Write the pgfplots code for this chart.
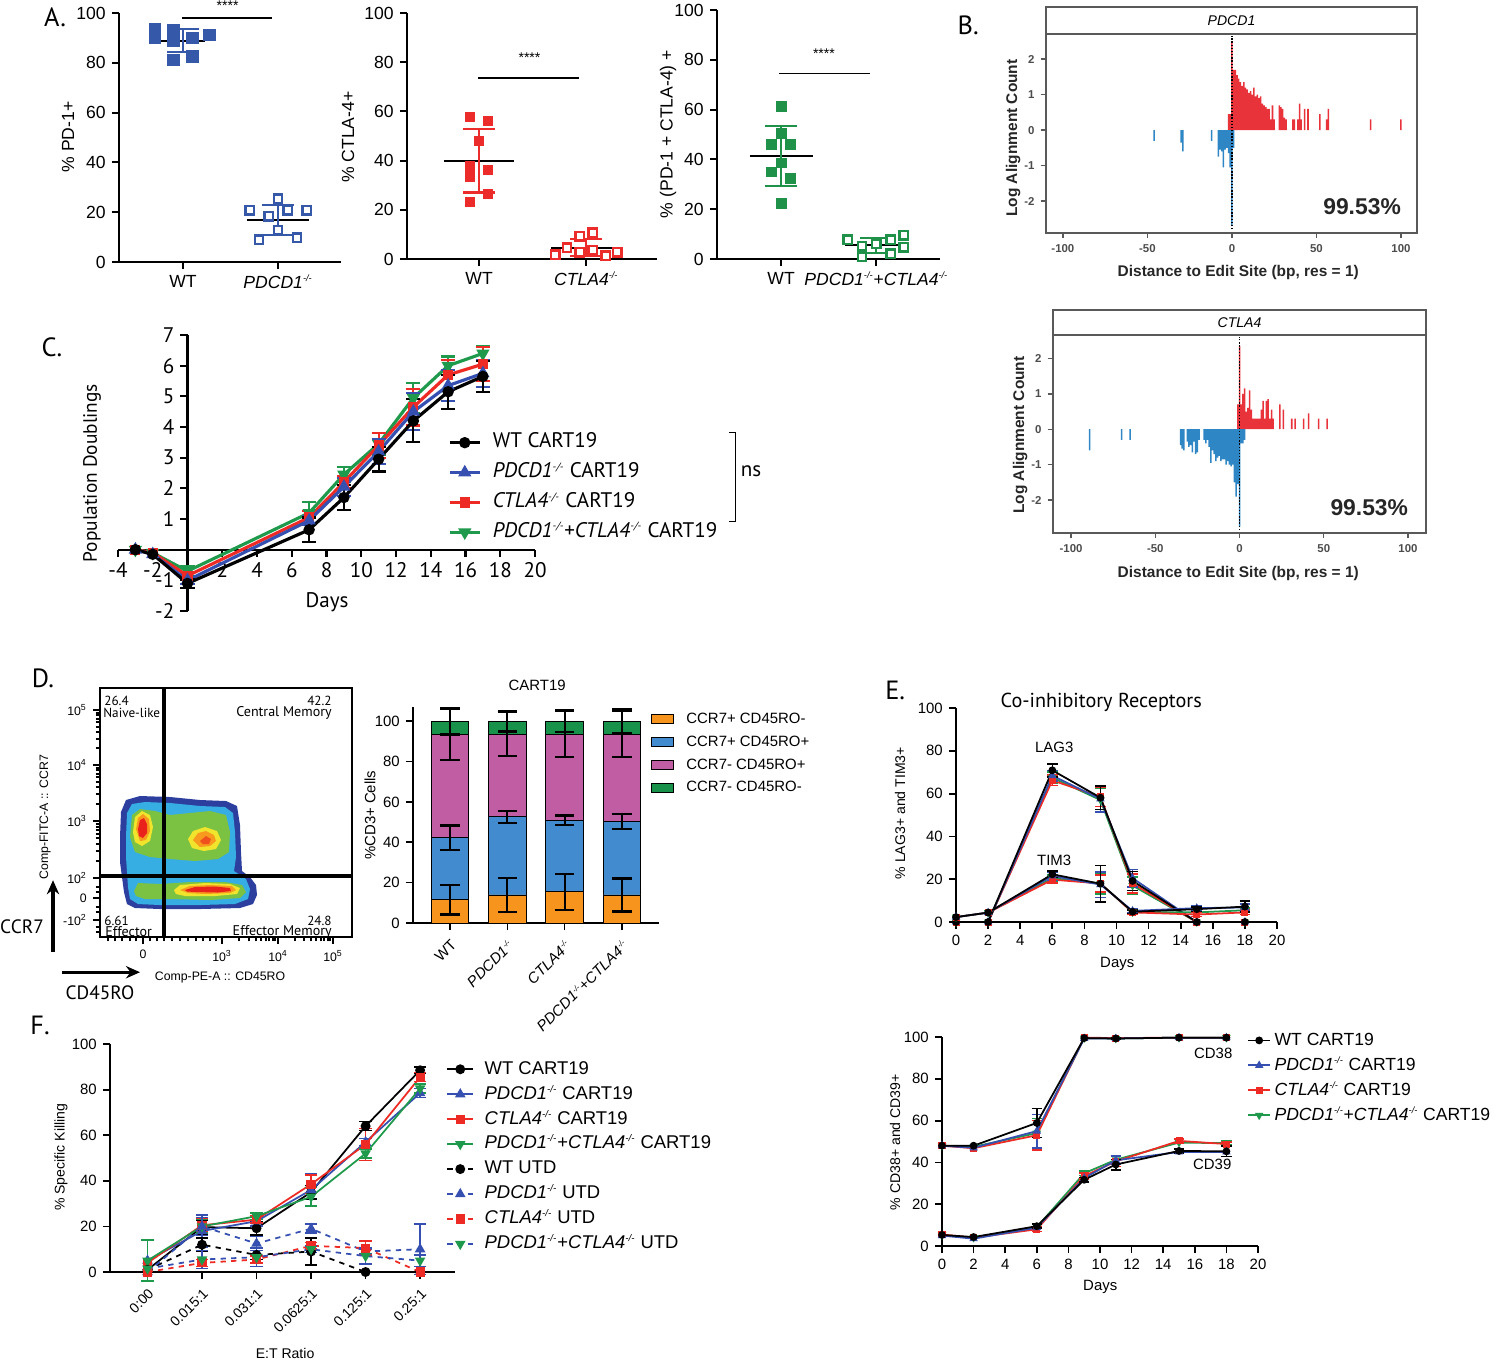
\documentclass[border=0pt]{standalone}
\usepackage{fontspec}
\setmainfont{Liberation Sans}
\newfontfamily\pts{PT Sans}
\usepackage{graphicx}
\usepackage{pgfplots}
\pgfplotsset{compat=1.18}
\usetikzlibrary{arrows.meta}

\definecolor{ablue}{HTML}{3558A8}
\definecolor{ared}{HTML}{EC2B2B}
\definecolor{agreen}{HTML}{1F9148}
\definecolor{bred}{HTML}{E8333B}
\definecolor{bblue}{HTML}{2F86C4}
\definecolor{lblue}{HTML}{3550B0}
\definecolor{lred}{HTML}{EE2A24}
\definecolor{lgreen}{HTML}{1F9A4C}
\definecolor{dorange}{HTML}{F7941D}
\definecolor{dblue}{HTML}{428BCF}
\definecolor{dmag}{HTML}{C15DA2}
\definecolor{dgreen}{HTML}{18924A}
\definecolor{fdark}{HTML}{2C3F9E}
\definecolor{fcyan}{HTML}{36AEE3}
\definecolor{fgreen}{HTML}{7CC242}
\definecolor{fyel}{HTML}{F1E42C}
\definecolor{forange}{HTML}{F79A1E}
\definecolor{fred}{HTML}{E9221C}

\newcommand\fs[1]{\fontsize{#1}{#1}\selectfont}
\newcommand\KO[1]{\textit{#1}\textsuperscript{\scalebox{0.75}{\textit{-/-}}}}

\pgfplotsset{
  gp/.style={scale only axis, anchor=south west, axis lines=left, clip=false,
    axis line style={-, line width=1.1pt}, tick style={line width=1.1pt, black},
    tick align=outside, major tick length=4pt,
    /pgf/number format/assume math mode=true},
  gg/.style={scale only axis, anchor=south west, clip=false,
    axis line style={draw=black!65, line width=0.9pt},
    tick style={black!65, line width=0.8pt}, tick align=outside, major tick length=3pt,
    xtick={-100,-50,0,50,100}, ytick={-2,-1,0,1,2}, tick pos=left,
    tick label style={font=\bfseries\fs{6.5}, text=black!70},
    /pgf/number format/assume math mode=true},
  ebar/.style 2 args={error bars/.cd, y dir=both, y explicit,
    error bar style={solid, line width=#1},
    error mark options={rotate=90, solid, line width=#1, mark size=#2}},
  ebk/.style 2 args={error bars/.cd, y dir=both, y explicit,
    error bar style={solid, draw=black, line width=#1},
    error mark options={rotate=90, solid, draw=black, line width=#1, mark size=#2}},
  sWT/.style={black, mark=*},
  sPD/.style={lblue, mark=triangle*},
  sCT/.style={lred, mark=square*},
  sDK/.style={lgreen, mark=triangle*, mark options={rotate=180}},
  lg/.style={legend cell align=left, legend style={draw=none, fill=none, inner sep=0pt, anchor=north west}},
}

\begin{document}
\begin{tikzpicture}
\useasboundingbox (0,0) rectangle (30cm,-27.18cm);

% ---------- A: PD-1
\begin{axis}[gp, at={(2.38cm,-5.24cm)}, width=4.44cm, height=4.98cm,
  xmin=0.326, xmax=2.663, ymin=0, ymax=100,
  xtick={1,2}, xticklabels={WT,\KO{PDCD1}}, ytick={0,20,40,60,80,100},
  tick label style={font=\fs{10}}]
\addplot[black, line width=1.2pt] coordinates {(0.77,88.9)(1.23,88.9)};
\addplot[black, line width=1.2pt] coordinates {(1.67,16.8)(2.33,16.8)};
\addplot[only marks, mark=square*, mark size=3.3pt, ablue] coordinates
  {(0.705,93.7)(0.705,90.3)(0.9,93)(0.9,89)(0.9,81.2)(1.1,90)(1.1,82.6)(1.28,91.3)};
\addplot[only marks, mark=square*, mark size=2.4pt, mark options={draw=ablue, fill=white, line width=1.4pt}] coordinates
  {(1.7,20.8)(1.9,18.4)(2.0,25.5)(2.1,20.8)(2.3,20.8)(2.0,12.8)(1.8,9)(2.2,9.8)};
\addplot[ablue, line width=1.2pt, ebar={1.2pt}{9pt}] coordinates {(1,88.9) +- (0,4.7)};
\addplot[ablue, line width=1.2pt, ebar={1.2pt}{9pt}] coordinates {(2,16.8) +- (0,6)};
\addplot[black, line width=1pt] coordinates {(0.99,98)(1.94,98)};
\node[font=\fs{8}] at (axis cs:1.47,103) {****};
\end{axis}

% ---------- A: CTLA-4
\begin{axis}[gp, at={(8.14cm,-5.18cm)}, width=5.0cm, height=4.92cm,
  xmin=0.327, xmax=2.66, ymin=0, ymax=100,
  xtick={1,2}, xticklabels={WT,\KO{CTLA4}}, ytick={0,20,40,60,80,100},
  tick label style={font=\fs{10}}]
\addplot[black, line width=1.2pt] coordinates {(0.67,39.9)(1.33,39.9)};
\addplot[black, line width=1.2pt] coordinates {(1.67,4.6)(2.33,4.6)};
\addplot[only marks, mark=square*, mark size=2.6pt, ared] coordinates
  {(0.91,57.7)(1.08,56)(1,48.1)(0.91,37.7)(1.08,36.3)(0.91,33.6)(1.08,26.4)(0.91,23.4)};
\addplot[only marks, mark=square*, mark size=2.4pt, mark options={draw=ared, fill=white, line width=1.4pt}] coordinates
  {(1.71,1.8)(1.82,4.5)(1.94,9.2)(1.94,2.8)(2.06,10.6)(2.06,3.5)(2.18,1.4)(2.29,2.7)};
\addplot[ared, line width=1.2pt, ebar={1.2pt}{9pt}] coordinates {(1,39.9) +- (0,12.85)};
\addplot[ared, line width=1.2pt, ebar={1.2pt}{9pt}] coordinates {(2,4.6) +- (0,3.4)};
\addplot[black, line width=1pt] coordinates {(0.99,73.6)(1.93,73.6)};
\node[font=\fs{8}] at (axis cs:1.47,81.7) {****};
\end{axis}

% ---------- A: PD-1 + CTLA-4
\begin{axis}[gp, at={(14.34cm,-5.18cm)}, width=4.46cm, height=4.98cm,
  xmin=0.326, xmax=2.67, ymin=0, ymax=100,
  xtick={1,2}, xticklabels={WT,{\KO{PDCD1}+\KO{CTLA4}}}, ytick={0,20,40,60,80,100},
  tick label style={font=\fs{10}}]
\addplot[black, line width=1.2pt] coordinates {(0.67,41.5)(1.33,41.5)};
\addplot[black, line width=1.2pt] coordinates {(1.67,5.5)(2.33,5.5)};
\addplot[only marks, mark=square*, mark size=2.8pt, agreen] coordinates
  {(1,61.4)(1,50.4)(0.9,46.1)(1.1,46.1)(1,38.6)(0.9,35)(1.1,32.3)(1,22.3)};
\addplot[only marks, mark=square*, mark size=2.4pt, mark options={draw=agreen, fill=white, line width=1.4pt}] coordinates
  {(1.7,7.8)(1.85,5.1)(1.85,0.8)(2,6.2)(2.15,7.8)(2.15,2.1)(2.29,9.5)(2.29,4.8)};
\addplot[agreen, line width=1.2pt, ebar={1.2pt}{9pt}] coordinates {(1,41.5) +- (0,12)};
\addplot[agreen, line width=1.2pt, ebar={1.2pt}{9pt}] coordinates {(2,5.5) +- (0,3)};
\addplot[black, line width=1pt] coordinates {(0.98,74.5)(1.93,74.5)};
\node[font=\fs{8}] at (axis cs:1.45,82.6) {****};
\end{axis}

% ---------- B: PDCD1 edits
\begin{axis}[gg, at={(20.92cm,-4.66cm)}, width=7.42cm, height=3.98cm,
  xmin=-110, xmax=109.5, ymin=-2.9, ymax=2.71]
\addplot[ybar, bar width=0.9, bar shift=0pt, fill=bred, draw=none] coordinates {
 (-2,0.45)(-1,0.45)(0,2.45)(1,1.7)(2,1.7)(3,1.55)(4,1.45)(5,1.35)(6,1.25)(7,1.35)(8,1.2)(9,1.15)
 (10,1.05)(11,1.1)(12,1.0)(13,1.2)(14,0.95)(15,1.0)(16,0.9)(17,0.95)(18,0.75)(19,0.7)(20,0.65)
 (21,0.6)(22,0.6)(23,0.3)(24,0.7)(25,0.3)(28,0.7)(29,0.65)(30,0.6)(31,0.35)(32,0.3)(36,0.3)
 (37,0.3)(39,0.3)(40,0.75)(41,0.3)(43,0.6)(45,0.6)(52,0.45)(56,0.3)(57,0.6)(82,0.3)(100,0.3)};
\addplot[ybar, bar width=0.9, bar shift=0pt, fill=bblue, draw=none] coordinates {
 (-46,-0.3)(-30,-0.35)(-29,-0.6)(-12,-0.3)(-8,-0.75)(-7,-0.55)(-6,-0.6)(-5,-1.05)(-4,-0.55)
 (-3,-0.5)(-2,-0.65)(-1,-1.05)(0,-2.7)(1,-0.5)};
\addplot[black, densely dotted, line width=0.8pt] coordinates {(0,-2.8)(0,2.65)};
\node[font=\bfseries\fs{13}, text=black!85] at (axis cs:77,-2.17) {99.53\%};
\draw[black!65, line width=0.9pt, fill=white] (rel axis cs:0,1) rectangle ([yshift=0.54cm]rel axis cs:1,1);
\node[font=\itshape\fs{8}] at ([yshift=0.27cm]rel axis cs:0.5,1) {PDCD1};
\end{axis}

% ---------- B: CTLA4 edits
\begin{axis}[gg, at={(21.06cm,-10.66cm)}, width=7.46cm, height=3.96cm,
  xmin=-110.7, xmax=110.7, ymin=-2.93, ymax=2.66]
\addplot[ybar, bar width=0.9, bar shift=0pt, fill=bred, draw=none] coordinates {
 (-1,0.7)(0,2.35)(1,0.7)(2,1.0)(3,1.15)(4,0.5)(5,0.6)(6,1.1)(7,0.55)(8,0.3)(9,0.3)(10,0.3)
 (11,0.3)(12,0.3)(13,0.55)(14,0.8)(15,0.3)(16,0.8)(17,0.85)(18,0.3)(19,0.55)(20,0.3)(24,0.7)
 (26,0.55)(31,0.3)(33,0.3)(38,0.3)(41,0.45)(47,0.3)(52,0.3)};
\addplot[ybar, bar width=0.9, bar shift=0pt, fill=bblue, draw=none] coordinates {
 (-89,-0.6)(-70,-0.3)(-65,-0.3)(-35,-0.45)(-34,-0.55)(-33,-0.6)(-31,-0.35)(-30,-0.5)(-29,-0.45)
 (-28,-0.65)(-27,-0.35)(-26,-0.7)(-25,-0.65)(-24,-0.3)(-21,-0.3)(-20,-0.4)(-19,-0.3)(-18,-0.5)
 (-17,-0.95)(-16,-0.6)(-15,-0.7)(-14,-0.9)(-13,-0.8)(-12,-0.75)(-11,-0.9)(-10,-0.85)(-9,-0.85)
 (-8,-1.0)(-7,-0.9)(-6,-1.0)(-5,-1.05)(-4,-1.0)(-3,-1.5)(-2,-1.9)(-1,-1.55)(0,-2.75)(1,-0.4)
 (2,-0.4)(3,-0.3)};
\addplot[black, densely dotted, line width=0.8pt] coordinates {(0,-2.85)(0,2.6)};
\node[font=\bfseries\fs{13}, text=black!85] at (axis cs:77,-2.2) {99.53\%};
\draw[black!65, line width=0.9pt, fill=white] (rel axis cs:0,1) rectangle ([yshift=0.5cm]rel axis cs:1,1);
\node[font=\itshape\fs{8}] at ([yshift=0.25cm]rel axis cs:0.5,1) {CTLA4};
\end{axis}

% ---------- C: population doublings
\begin{axis}[scale only axis, anchor=south west, at={(2.36cm,-12.22cm)}, width=8.34cm, height=5.52cm,
  xmin=-4, xmax=20, ymin=-2, ymax=7, axis lines=middle, clip=false,
  axis line style={-, line width=1.2pt}, tick style={black, line width=1.2pt},
  tick align=outside, major tick length=4pt,
  xtick={-4,-2,2,4,6,8,10,12,14,16,18,20}, ytick={-2,-1,1,2,3,4,5,6,7},
  tick label style={font=\pts\fs{12}}, /pgf/number format/assume math mode=true,
  lg, reverse legend, legend style={at={(0.791,0.659)}, font=\pts\fs{12}, row sep=2pt, column sep=5pt,
    nodes={inner sep=1.5pt, text height=9pt, text depth=3pt}}]
\addplot[sDK, line width=1.8pt, mark size=2.6pt, ebar={1.2pt}{4pt}] coordinates {
 (-3,0) (-2,-0.1) (0,-0.7) +- (0,0.15) (7,1.2) +- (0,0.35) (9,2.45) +- (0,0.25) (11,3.45) +- (0,0.35)
 (13,4.95) +- (0,0.5) (15,6.0) +- (0,0.3) (17,6.4) +- (0,0.25)};
\addlegendentry{\KO{PDCD1}+\KO{CTLA4} CART19}
\addplot[sCT, line width=1.8pt, mark size=2pt, ebar={1.2pt}{4pt}] coordinates {
 (-3,0) (-2,-0.1) (0,-0.85) +- (0,0.1) (7,1.05) +- (0,0.2) (9,2.2) +- (0,0.2) (11,3.4) +- (0,0.4)
 (13,4.65) +- (0,0.6) (15,5.7) +- (0,0.5) (17,6.05) +- (0,0.55)};
\addlegendentry{\KO{CTLA4} CART19}
\addplot[sPD, line width=1.8pt, mark size=2.6pt, ebar={1.2pt}{4pt}] coordinates {
 (-3,0) (-2,-0.15) (0,-1.0) +- (0,0.12) (7,0.95) +- (0,0.15) (9,2.05) +- (0,0.3) (11,3.2) +- (0,0.4)
 (13,4.5) +- (0,0.6) (15,5.35) +- (0,0.5) (17,5.75) +- (0,0.45)};
\addlegendentry{\KO{PDCD1} CART19}
\addplot[sWT, line width=1.8pt, mark size=2.3pt, ebar={1.2pt}{4pt}] coordinates {
 (-3,0) (-2,-0.15) (0,-1.1) +- (0,0.15) (7,0.65) +- (0,0.4) (9,1.7) +- (0,0.4) (11,2.95) +- (0,0.4)
 (13,4.2) +- (0,0.7) (15,5.15) +- (0,0.55) (17,5.65) +- (0,0.5)};
\addlegendentry{WT CART19}
\end{axis}

% ---------- D: flow plot
\begin{axis}[scale only axis, anchor=south west, at={(2.0cm,-18.74cm)}, width=5.04cm, height=4.98cm,
  xmin=0, xmax=252, ymin=0, ymax=249, axis line style={line width=1.3pt},
  tick pos=left, tick align=outside, major tick length=4pt, minor tick length=2.5pt,
  tick style={black, line width=1.3pt},
  xtick={43,122,178,233}, xticklabels={0,10\textsuperscript{3},10\textsuperscript{4},10\textsuperscript{5}},
  ytick={17,39,59,116,172,227},
  yticklabels={-10\textsuperscript{2},0,10\textsuperscript{2},10\textsuperscript{3},10\textsuperscript{4},10\textsuperscript{5}},
  minor xtick={8,15,22,30,36,50,57,64,72,80,88,96,103,110,116,139,149,156,161,166,169,173,175,195,204,211,216,221,224,228,230},
  minor ytick={5,10,25,30,45,50,76,86,93,99,103,107,110,113,133,143,150,155,160,163,167,169,189,198,205,210,215,218,222,224},
  tick label style={font=\fs{7}}, /pgf/number format/assume math mode=true]
\addplot[fill=fdark, draw=none] coordinates {(20,100)(21,125)(26,137)(40,141)(70,140)(100,137)(126,136)(137,131)(140,112)(141,85)(142,66)(150,60)(156,52)(157,42)(153,33)(140,29)(100,28)(60,28)(35,29)(27,33)(24,45)(22,60)(20,75)} -- cycle;
\addplot[fill=fcyan, draw=none] coordinates {(26,100)(27,124)(32,133)(45,135)(70,134)(100,131)(125,130)(133,124)(135,105)(136,80)(134,66)(146,58)(150,48)(148,38)(135,33)(100,32)(60,32)(38,33)(30,38)(28,50)(27,65)(26,80)} -- cycle;
\addplot[fill=fgreen, draw=none] coordinates {(30,100)(32,122)(40,128)(55,126)(70,122)(90,124)(110,126)(126,122)(130,105)(129,85)(118,78)(95,76)(70,78)(50,80)(35,85)} -- cycle;
\addplot[fill=fgreen, draw=none] coordinates {(34,46)(38,54)(60,53)(90,55)(125,55)(142,52)(146,45)(140,39)(110,37)(70,38)(45,38)(36,41)} -- cycle;
\addplot[fill=fyel, draw=none] coordinates {(33,105)(35,120)(42,126)(50,122)(53,110)(50,96)(42,91)(35,95)} -- cycle;
\addplot[fill=fyel, draw=none] coordinates {(88,98)(93,106)(105,110)(117,106)(121,97)(116,88)(104,86)(92,89)} -- cycle;
\addplot[fill=fyel, draw=none] coordinates {(74,47)(80,52)(105,54)(130,53)(140,49)(137,43)(115,41)(85,41)(76,43)} -- cycle;
\addplot[fill=forange, draw=none] coordinates {(36,108)(38,119)(43,123)(49,118)(50,106)(46,97)(40,96)} -- cycle;
\addplot[fill=forange, draw=none] coordinates {(93,97)(98,104)(106,106)(114,102)(116,96)(110,91)(100,90)} -- cycle;
\addplot[fill=forange, draw=none] coordinates {(80,47)(90,51)(110,52)(132,51)(136,47)(130,44)(105,43)(88,44)} -- cycle;
\addplot[fill=fred, draw=none] coordinates {(38,108)(40,117)(44,119)(47,113)(47,104)(43,99)(39,101)} -- cycle;
\addplot[fill=fred!60!forange, draw=none] coordinates {(100,96)(106,101)(111,98)(109,93)(103,93)} -- cycle;
\addplot[fill=fred, draw=none] coordinates {(85,47)(95,50)(115,50.5)(130,49)(131,46)(118,44.5)(95,45)(87,45.5)} -- cycle;
\addplot[black, line width=2.2pt] coordinates {(64,0)(64,249)};
\addplot[black, line width=2.2pt] coordinates {(0,61)(252,61)};
\node[anchor=west, inner sep=0pt, font=\pts\fs{7.5}] at (axis cs:4,236) {26.4};
\node[anchor=west, inner sep=0pt, font=\pts\fs{7.5}] at (axis cs:3,224) {Naive-like};
\node[anchor=east, inner sep=0pt, font=\pts\fs{7.5}] at (axis cs:232,236) {42.2};
\node[anchor=east, inner sep=0pt, font=\pts\fs{8}] at (axis cs:232,224) {Central Memory};
\node[anchor=west, inner sep=0pt, font=\pts\fs{7.5}] at (axis cs:4,16.5) {6.61};
\node[anchor=west, inner sep=0pt, font=\pts\fs{8}] at (axis cs:5,5.5) {Effector};
\node[anchor=east, inner sep=0pt, font=\pts\fs{7.5}] at (axis cs:232,16.5) {24.8};
\node[anchor=east, inner sep=0pt, font=\pts\fs{8}] at (axis cs:232,5.5) {Effector Memory};
\end{axis}

% ---------- D: stacked bars
\begin{axis}[gp, at={(8.26cm,-18.46cm)}, width=4.92cm, height=4.32cm,
  xmin=-0.646, xmax=3.646, ymin=0, ymax=107, ybar stacked, bar width=0.658,
  axis line style={-, line width=0.9pt}, tick style={black, line width=0.9pt},
  xtick={0,1,2,3}, xticklabels={WT,\KO{PDCD1},\KO{CTLA4},{\KO{PDCD1}+\KO{CTLA4}}},
  ytick={0,20,40,60,80,100}, tick label style={font=\fs{8.5}},
  x tick label style={rotate=45, anchor=north east, font=\fs{8.5}},
  lg, legend style={at={(0.967,0.991)}, font=\fs{8.5}, row sep=2pt, column sep=6pt,
    nodes={inner sep=1pt, text height=7pt, text depth=2pt}},
  legend image code/.code={\draw[#1] (0cm,-0.09cm) rectangle (0.44cm,0.09cm);}]
\addplot[fill=dorange, draw=black, line width=0.5pt] coordinates {(0,11.6)(1,13.9)(2,15.4)(3,13.9)};
\addlegendentry{CCR7+ CD45RO-}
\addplot[fill=dblue, draw=black, line width=0.5pt] coordinates {(0,30.7)(1,38.7)(2,35.5)(3,36.5)};
\addlegendentry{CCR7+ CD45RO+}
\addplot[fill=dmag, draw=black, line width=0.5pt] coordinates {(0,51.1)(1,41.0)(2,42.7)(3,43.2)};
\addlegendentry{CCR7- CD45RO+}
\addplot[fill=dgreen, draw=black, line width=0.5pt] coordinates {(0,6.6)(1,6.4)(2,6.4)(3,6.4)};
\addlegendentry{CCR7- CD45RO-}
\end{axis}
\begin{axis}[scale only axis, anchor=south west, at={(8.26cm,-18.46cm)}, width=4.92cm, height=4.32cm,
  xmin=-0.646, xmax=3.646, ymin=0, ymax=107, hide axis, clip=false]
\addplot[draw=none, mark=none, ebk={1.3pt}{5.5pt}] coordinates {
 (0,11.6) +- (0,7.4) (1,13.9) +- (0,8.3) (2,15.4) +- (0,8.8) (3,13.9) +- (0,8.2)
 (0,42.3) +- (0,6) (1,52.6) +- (0,2.9) (2,50.9) +- (0,2.4) (3,50.4) +- (0,3.7)
 (0,93.4) +- (0,12.8) (1,93.6) +- (0,11) (2,93.6) +- (0,11.3) (3,93.6) +- (0,11.5)
 (0,100) +- (0,6.6) (1,100) +- (0,5.1) (2,100) +- (0,5.5) (3,100) +- (0,5.8)};
\end{axis}

% ---------- E: LAG3 / TIM3
\begin{axis}[gp, at={(19.12cm,-18.44cm)}, width=6.42cm, height=4.28cm,
  xmin=0, xmax=20, ymin=0, ymax=100, xtick={0,2,...,20}, ytick={0,20,...,100},
  axis line style={-, line width=1pt}, tick style={black, line width=1pt},
  tick label style={font=\fs{8.5}}]
\addplot[sDK, line width=1pt, mark size=1.8pt, ebar={0.9pt}{3pt}] coordinates {(0,0)(2,0)(6,67.5) +- (0,2.5) (9,57) +- (0,5.5) (11,17) +- (0,4) (15,0)(18,0)};
\addplot[sCT, line width=1pt, mark size=1.5pt, ebar={0.9pt}{3pt}] coordinates {(0,0)(2,0)(6,66.2) +- (0,2.5) (9,58.5) +- (0,4.5) (11,18) +- (0,4.5) (15,0)(18,0)};
\addplot[sPD, line width=1pt, mark size=1.8pt, ebar={0.9pt}{3pt}] coordinates {(0,0)(2,0)(6,68.4) +- (0,2.5) (9,57.5) +- (0,6) (11,20.5) +- (0,4) (15,0)(18,0)};
\addplot[sWT, line width=1pt, mark size=1.7pt, ebar={0.9pt}{3pt}] coordinates {(0,0)(2,0)(6,70.9) +- (0,3) (9,58.1) +- (0,5.5) (11,19.2) +- (0,4.5) (15,0)(18,0)};
\addplot[sDK, line width=1pt, mark size=1.8pt, ebar={0.9pt}{3pt}] coordinates {(0,2.3)(2,4.4)(6,20.5) +- (0,1.5) (9,18) +- (0,5) (11,4.6) +- (0,1) (15,4.5) +- (0,1) (18,5.5) +- (0,1)};
\addplot[sCT, line width=1pt, mark size=1.5pt, ebar={0.9pt}{3pt}] coordinates {(0,2.3)(2,4.4)(6,19.8) +- (0,1.5) (9,18) +- (0,4) (11,4.5) +- (0,1) (15,3.5) +- (0,1) (18,4.5) +- (0,1)};
\addplot[sPD, line width=1pt, mark size=1.8pt, ebar={0.9pt}{3pt}] coordinates {(0,2.3)(2,4.4)(6,21.5) +- (0,2) (9,17.5) +- (0,6) (11,5.2) +- (0,1) (15,6.5) +- (0,1) (18,6.8) +- (0,1.5)};
\addplot[sWT, line width=1pt, mark size=1.7pt, ebar={0.9pt}{3pt}] coordinates {(0,2.3)(2,4.4)(6,22.3) +- (0,1.5) (9,17.9) +- (0,8.5) (11,4.8) +- (0,0.8) (15,6) +- (0,1) (18,7.2) +- (0,2.5)};
\end{axis}

% ---------- E: CD38 / CD39
\begin{axis}[gp, at={(18.84cm,-24.92cm)}, width=6.32cm, height=4.18cm,
  xmin=0, xmax=20, ymin=0, ymax=100, xtick={0,2,...,20}, ytick={0,20,...,100},
  axis line style={-, line width=1pt}, tick style={black, line width=1pt},
  tick label style={font=\fs{8.5}},
  lg, reverse legend, legend style={at={(0.965,1.038)}, font=\fs{10}, row sep=1.7pt, column sep=1pt,
    nodes={inner sep=1pt, text height=8pt, text depth=2.5pt}},
  legend image code/.code={\draw[mark repeat=2,mark phase=2,#1] plot coordinates {(0cm,0cm)(0.22cm,0cm)(0.44cm,0cm)};}]
\addplot[sDK, line width=1pt, mark size=1.8pt, ebar={0.9pt}{3pt}] coordinates {(0,48)(2,47.5)(6,54) +- (0,7) (9,99.5)(11,99.3)(15,99.7)(18,99.7)};
\addlegendentry{\KO{PDCD1}+\KO{CTLA4} CART19}
\addplot[sCT, line width=1pt, mark size=1.5pt, ebar={0.9pt}{3pt}] coordinates {(0,48)(2,46.8)(6,53) +- (0,7) (9,99.7)(11,99.5)(15,99.7)(18,99.7)};
\addlegendentry{\KO{CTLA4} CART19}
\addplot[sPD, line width=1pt, mark size=1.8pt, ebar={0.9pt}{3pt}] coordinates {(0,48)(2,47)(6,55) +- (0,8) (9,99.3)(11,99.3)(15,99.7)(18,99.7)};
\addlegendentry{\KO{PDCD1} CART19}
\addplot[sWT, line width=1pt, mark size=1.7pt, ebar={0.9pt}{3pt}] coordinates {(0,48)(2,48)(6,58.9) +- (0,7) (9,99.5)(11,99.3) +- (0,0.5) (15,99.7)(18,99.7)};
\addlegendentry{WT CART19}
\addplot[sDK, line width=1pt, mark size=1.8pt, forget plot, ebar={0.9pt}{3pt}] coordinates {(0,5.3)(2,4)(6,9)(9,34.8) +- (0,1) (11,41.3) +- (0,2) (15,49.5)(18,49.2) +- (0,1)};
\addplot[sCT, line width=1pt, mark size=1.5pt, forget plot, ebar={0.9pt}{3pt}] coordinates {(0,5.5)(2,4)(6,8) +- (0,1) (9,33.5) +- (0,1.5) (11,40.5) +- (0,2.5) (15,50.3) +- (0,1) (18,48.8) +- (0,1)};
\addplot[sPD, line width=1pt, mark size=1.8pt, forget plot, ebar={0.9pt}{3pt}] coordinates {(0,5)(2,3.5)(6,8.8)(9,32.5)(11,41) +- (0,2) (15,45)(18,45)};
\addplot[sWT, line width=1pt, mark size=1.7pt, forget plot, ebar={0.9pt}{3pt}] coordinates {(0,5.3)(2,4.3)(6,9.5) +- (0,1) (9,31.7) +- (0,1) (11,39) +- (0,2.5) (15,45.5) +- (0,1) (18,45.3) +- (0,2.5)};
\end{axis}

% ---------- F: killing
\begin{axis}[gp, at={(2.2cm,-25.44cm)}, width=6.9cm, height=4.56cm,
  xmin=-0.688, xmax=5.64, ymin=0, ymax=100,
  xtick={0,1,2,3,4,5}, xticklabels={0:00,0.015:1,0.031:1,0.0625:1,0.125:1,0.25:1},
  ytick={0,20,...,100}, axis line style={-, line width=1pt}, tick style={black, line width=1pt},
  tick label style={font=\fs{8.5}}, x tick label style={rotate=45, anchor=north east, font=\fs{8}},
  lg, legend style={at={(0.974,0.939)}, font=\fs{10.5}, row sep=1.7pt, column sep=5pt,
    nodes={inner sep=1pt, text height=8pt, text depth=2.5pt}},
  legend image code/.code={\draw[mark repeat=2,mark phase=2,#1] plot coordinates {(0cm,0cm)(0.26cm,0cm)(0.52cm,0cm)};}]
\addplot[sWT, line width=1pt, mark size=2.3pt, ebar={0.9pt}{3.5pt}] coordinates {(0,1)(1,19.7) +- (0,3) (2,19.2) +- (0,3) (3,35) +- (0,3) (4,64) +- (0,2) (5,88.5) +- (0,1.5)};
\addlegendentry{WT CART19}
\addplot[sPD, line width=1pt, mark size=2.5pt, ebar={0.9pt}{3.5pt}] coordinates {(0,5)(1,18) +- (0,7) (2,22.3) +- (0,2) (3,36) +- (0,7) (4,57) +- (0,1.5) (5,78.5) +- (0,2)};
\addlegendentry{\KO{PDCD1} CART19}
\addplot[sCT, line width=1pt, mark size=2.1pt, ebar={0.9pt}{3.5pt}] coordinates {(0,4)(1,20.5) +- (0,3) (2,23) +- (0,1.5) (3,38.5) +- (0,4) (4,56) +- (0,7) (5,85.5) +- (0,2)};
\addlegendentry{\KO{CTLA4} CART19}
\addplot[sDK, line width=1pt, mark size=2.5pt, ebar={0.9pt}{3.5pt}] coordinates {(0,5) +- (0,9) (1,20) +- (0,3) (2,24.5) +- (0,1.5) (3,33) +- (0,4) (4,52) +- (0,2) (5,80.5) +- (0,2)};
\addlegendentry{\KO{PDCD1}+\KO{CTLA4} CART19}
\addplot[black, dashed, mark=*, mark options={solid}, line width=1pt, mark size=2.3pt, ebar={0.9pt}{3.5pt}] coordinates {(0,1)(1,12) +- (0,3) (2,7.5) +- (0,2) (3,9) +- (0,6) (4,0)(5,0)};
\addlegendentry{WT UTD}
\addplot[lblue, dashed, mark=triangle*, mark options={solid}, line width=1pt, mark size=2.5pt, ebar={0.9pt}{3.5pt}] coordinates {(0,0)(1,20) +- (0,4) (2,12.5) +- (0,3) (3,19) +- (0,2) (4,9) +- (0,1) (5,10) +- (0,11)};
\addlegendentry{\KO{PDCD1} UTD}
\addplot[lred, dashed, mark=square*, mark options={solid}, line width=1pt, mark size=2.1pt, ebar={0.9pt}{3.5pt}] coordinates {(0,0)(1,4) +- (0,1.5) (2,5.5) +- (0,1.5) (3,11.5) +- (0,1.5) (4,10.5) +- (0,3) (5,0)};
\addlegendentry{\KO{CTLA4} UTD}
\addplot[lblue, dashed, mark=triangle*, mark options={solid, rotate=180, draw=lgreen, fill=lgreen}, line width=1pt, mark size=2.5pt, ebar={0.9pt}{3.5pt}] coordinates {(0,1.5)(1,5.5) +- (0,4) (2,6.5) +- (0,4) (3,10) +- (0,1.5) (4,7) +- (0,3.5) (5,5) +- (0,2.5)};
\addlegendentry{\KO{PDCD1}+\KO{CTLA4} UTD}
\end{axis}

% ---------- text placed in pixel units
\begin{scope}[x=0.02cm, y=-0.02cm]
\node[font=\pts\fs{15}] at (55,17) {A.};
\node[font=\pts\fs{15}] at (968,25) {B.};
\node[font=\pts\fs{15}] at (52,347) {C.};
\node[font=\pts\fs{15}] at (43,678) {D.};
\node[font=\pts\fs{15}] at (895,690) {E.};
\node[font=\pts\fs{15}] at (40,1025) {F.};
\node[rotate=90, font=\fs{10}] at (68,137) {\% PD-1+};
\node[rotate=90, font=\fs{10}] at (348,137) {\% CTLA-4+};
\node[rotate=90, font=\fs{10}] at (668,134) {\% (PD-1 + CTLA-4) +};
\node[rotate=90, font=\bfseries\fs{8.8}, text=black!85] at (1013,138) {Log Alignment Count};
\node[font=\bfseries\fs{8.8}, text=black!85] at (1238,272) {Distance to Edit Site (bp, res = 1)};
\node[rotate=90, font=\bfseries\fs{8.8}, text=black!85] at (1020,435) {Log Alignment Count};
\node[font=\bfseries\fs{8.8}, text=black!85] at (1238,573) {Distance to Edit Site (bp, res = 1)};
\node[rotate=90, font=\pts\fs{11}] at (92,473) {Population Doublings};
\node[font=\pts\fs{12}] at (327,602) {Days};
\draw[line width=0.6pt] (729,432) -- (735,432) -- (735,521) -- (729,521);
\node[font=\pts\fs{12}] at (751,471) {ns};
\node[rotate=90, font=\fs{7}] at (45,817) {Comp-FITC-A :: CCR7};
\node[font=\fs{7}] at (220,977) {Comp-PE-A :: CD45RO};
\draw[-{Stealth[length=8pt,width=7pt]}, line width=1.8pt] (53,952) -- (53,880);
\draw[-{Stealth[length=8pt,width=7pt]}, line width=1.8pt] (62,972) -- (140,972);
\node[font=\pts\fs{11}] at (22,927) {CCR7};
\node[font=\pts\fs{11}] at (100,993) {CD45RO};
\node[rotate=90, font=\fs{8.5}] at (370,815) {\%CD3+ Cells};
\node[font=\fs{8.5}] at (537,685) {CART19};
\node[font=\pts\fs{11.5}] at (1101,702) {Co-inhibitory Receptors};
\node[font=\fs{8.5}] at (1054,747) {LAG3};
\node[font=\fs{8.5}] at (1054,860) {TIM3};
\node[rotate=90, font=\fs{8}] at (900,813) {\% LAG3+ and TIM3+};
\node[font=\fs{8.5}] at (1117,964) {Days};
\node[rotate=90, font=\fs{8}] at (895,1142) {\% CD38+ and CD39+};
\node[font=\fs{8.5}] at (1100,1287) {Days};
\node[font=\fs{8.5}] at (1213,1053) {CD38};
\node[font=\fs{8.5}] at (1212,1164) {CD39};
\node[rotate=90, font=\fs{8}] at (61,1157) {\% Specific Killing};
\node[font=\fs{8}] at (285,1353) {E:T Ratio};
\end{scope}
\end{tikzpicture}
\end{document}
